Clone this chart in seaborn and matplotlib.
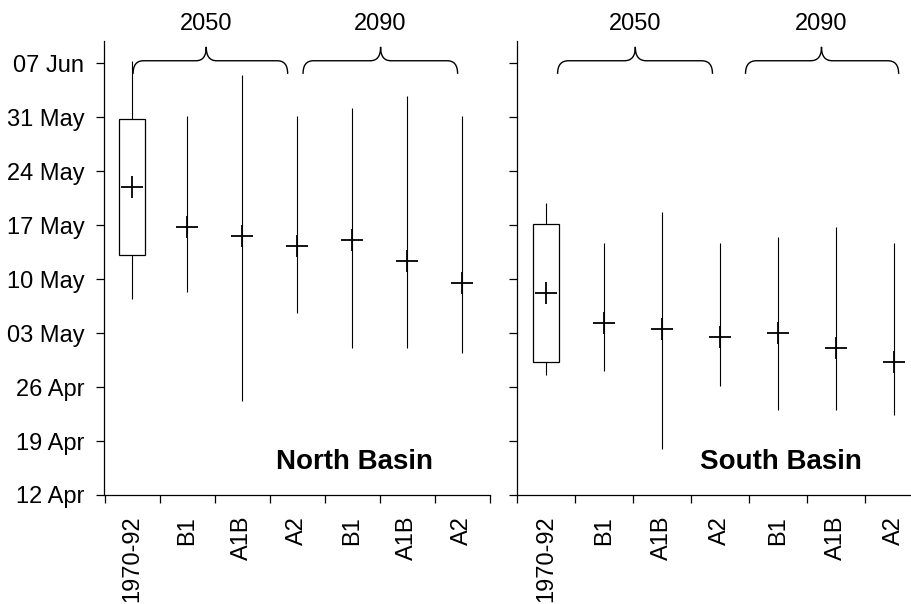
import numpy as np
import pandas as pd
import matplotlib
matplotlib.use("Agg")
import matplotlib.pyplot as plt
import seaborn as sns
from matplotlib.path import Path
from matplotlib.patches import PathPatch

sns.set_style("ticks", {"axes.edgecolor": "black", "text.color": "black",
                        "xtick.color": "black", "ytick.color": "black"})
plt.rcParams['font.family'] = ['Liberation Sans', 'DejaVu Sans']

# ---- data (days after 12 Apr) ----
categories = ["1970-92", "B1", "A1B", "A2", "B1", "A1B", "A2"]
date_ticks = [0, 7, 14, 21, 28, 35, 42, 49, 56]
date_labels = ["12 Apr", "19 Apr", "26 Apr", "03 May", "10 May",
               "17 May", "24 May", "31 May", "07 Jun"]

north_max = [56.3, 49.2, 54.5, 49.2, 50.2, 51.7, 49.2]
north_min = [25.4, 26.3, 12.2, 23.6, 19.1, 19.1, 18.4]
north_mean = [39.9, 34.8, 33.6, 32.3, 33.0, 30.4, 27.5]
north_box_lo = [31.1]
north_box_hi = [48.7]

south_max = [37.9, 32.7, 36.7, 32.7, 33.5, 34.7, 32.7]
south_min = [15.6, 16.1, 6.0, 14.1, 11.0, 11.0, 10.4]
south_mean = [26.2, 22.3, 21.5, 20.5, 21.0, 19.1, 17.2]
south_box_lo = [17.3]
south_box_hi = [35.1]

period_labels = ["2050", "2090"]
panel_titles = ["North Basin", "South Basin"]

W, H = 912, 604
fig = plt.figure(figsize=(W / 100, H / 100), dpi=100)

bottom_px, top_px = 495, 40.7
ax1 = fig.add_axes([104.5 / W, (H - bottom_px) / H, 385 / W, (bottom_px - top_px) / H])
ax2 = fig.add_axes([517 / W, (H - bottom_px) / H, 406 / W, (bottom_px - top_px) / H])

YMAX = 58.9
FS = 17


def brace(ax, x0, x1, xm, y_end, y_line, y_tip, rx):
    verts = [(x0, y_end),
             (x0, y_end + 0.7 * (y_line - y_end)), (x0 + 0.35 * rx, y_line), (x0 + rx, y_line),
             (xm - rx, y_line),
             (xm - 0.35 * rx, y_line), (xm, y_line + 0.3 * (y_tip - y_line)), (xm, y_tip),
             (xm, y_line + 0.3 * (y_tip - y_line)), (xm + 0.35 * rx, y_line), (xm + rx, y_line),
             (x1 - rx, y_line),
             (x1 - 0.35 * rx, y_line), (x1, y_end + 0.7 * (y_line - y_end)), (x1, y_end)]
    codes = [Path.MOVETO,
             Path.CURVE4, Path.CURVE4, Path.CURVE4,
             Path.LINETO,
             Path.CURVE4, Path.CURVE4, Path.CURVE4,
             Path.CURVE4, Path.CURVE4, Path.CURVE4,
             Path.LINETO,
             Path.CURVE4, Path.CURVE4, Path.CURVE4]
    p = PathPatch(Path(verts, codes), facecolor='none', edgecolor='black',
                  lw=1.0, clip_on=False)
    ax.add_patch(p)


def draw_panel(ax, vmax, vmin, vmean, blo, bhi, title, box_w, braces, label_y):
    x = np.arange(len(categories))
    df = pd.DataFrame({"x": x, "mean": vmean})
    ax.vlines(x, vmin, vmax, color='black', lw=0.8, zorder=1)
    ax.bar([0], [bhi[0] - blo[0]], bottom=blo, width=box_w, facecolor='white',
           edgecolor='black', lw=0.9, zorder=2)
    sns.scatterplot(data=df, x="x", y="mean", marker='+', s=260, color='black',
                    linewidth=1.3, ax=ax, zorder=3, legend=False)
    ax.set_xlim(-0.5, 6.5)
    ax.set_ylim(0, YMAX)
    ax.set_xlabel("")
    ax.set_ylabel("")
    ax.set_xticks(np.arange(-0.5, 7.0, 1.0))
    ax.set_xticklabels([])
    ax.set_xticks(x, minor=True)
    ax.set_xticklabels(categories, minor=True, rotation=90, fontsize=FS,
                       va='top', ha='center')
    ax.tick_params(axis='x', which='major', length=5.5, width=0.9, direction='out')
    ax.tick_params(axis='x', which='minor', length=0, pad=15)
    ax.set_yticks(date_ticks)
    ax.tick_params(axis='y', length=5.5, width=0.9, direction='out', pad=9, labelsize=FS)
    for s in ['top', 'right']:
        ax.spines[s].set_visible(False)
    for s in ['left', 'bottom']:
        ax.spines[s].set_linewidth(0.9)
    ax.text(4.05, 4.3, title, fontsize=20, fontweight='bold', ha='center', va='center')
    for (x0, x1, xm), lab in zip(braces, period_labels):
        brace(ax, x0, x1, xm, 54.6, 56.3, 58.1, 0.19)
        ax.text(xm, label_y, lab, fontsize=FS, ha='center', va='center', clip_on=False)


draw_panel(ax1, north_max, north_min, north_mean, north_box_lo, north_box_hi,
           panel_titles[0], 0.47, [(0.02, 2.83, 1.35), (3.11, 5.92, 4.52)], 61.1)
ax1.set_yticklabels(date_labels)

draw_panel(ax2, south_max, south_min, south_mean, south_box_lo, south_box_hi,
           panel_titles[1], 0.45, [(0.20, 2.87, 1.54), (3.44, 6.08, 4.75)], 61.1)
ax2.set_yticklabels([])

fig.savefig("out.png", dpi=100)
